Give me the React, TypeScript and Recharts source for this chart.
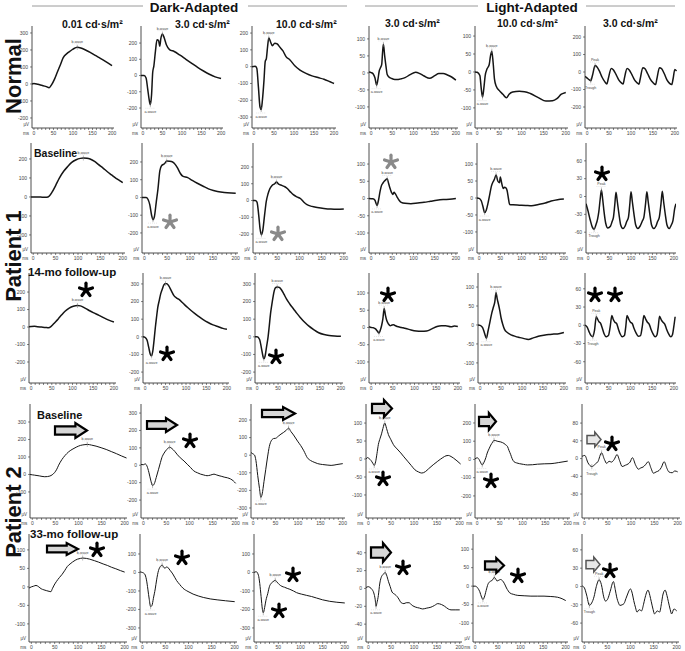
import React from 'react';
import { LineChart, Line, XAxis, YAxis, ReferenceDot } from 'recharts';

type P = [number, number];

// ---------- Row 1: Normal ----------
const nDA001: P[] = [[-5,0],[0,3],[10,-2],[20,-8],[30,-14],[39,-22],[45,-5],[53,30],[60,70],[68,115],[75,155],[85,180],[92,192],[100,205],[111,216],[120,212],[132,200],[144,186],[157,168],[170,151],[185,130],[200,108]];
const nDA30: P[] = [[-5,0],[3,0],[8,-15],[12,-80],[16,-150],[19,-180],[22,-120],[25,20],[28,60],[32,150],[36,220],[40,215],[43,180],[46,230],[50,255],[54,235],[60,190],[68,160],[80,148],[95,125],[110,100],[125,75],[140,50],[155,28],[170,8],[185,-8],[200,-18]];
const nDA100: P[] = [[-5,0],[3,2],[7,-10],[11,-120],[15,-240],[18,-255],[21,-200],[25,-80],[28,30],[31,50],[34,120],[37,170],[41,150],[46,125],[52,140],[58,135],[65,115],[72,95],[80,60],[90,40],[102,5],[115,-20],[130,-40],[145,-55],[160,-65],[175,-75],[190,-90],[200,-100]];
const nLA30: P[] = [[-5,3],[0,1],[5,-3],[9,-14],[13,-36],[16,-20],[19,5],[22,15],[25,25],[27,60],[29,84],[32,50],[35,20],[38,-5],[42,-12],[48,-16],[56,-19],[64,-19],[72,-17],[80,-14],[92,-5],[105,2],[115,-2],[125,-9],[138,-16],[150,-8],[160,-2],[170,-2],[180,-6],[190,-12],[200,-21]];
const nLA100: P[] = [[-5,0],[0,-1],[6,-10],[9,-45],[12,-70],[15,-45],[18,-10],[22,8],[27,20],[30,45],[33,58],[36,25],[39,-20],[43,-40],[50,-52],[58,-62],[66,-72],[72,-62],[80,-56],[95,-54],[107,-55],[120,-60],[139,-72],[155,-81],[170,-80],[180,-74],[190,-62],[200,-57]];
const nFlicker: P[] = [[-5,-25],[0,-35],[5,-45],[8,-50],[12,-20],[18,37],[22,30],[28,5],[34,-30],[40,-55],[45,-68],[48,-40],[55,20],[60,12],[66,-15],[72,-45],[78,-62],[82,-68],[85,-35],[91,20],[96,12],[102,-15],[108,-45],[114,-62],[118,-70],[121,-40],[127,25],[132,18],[138,-10],[144,-40],[150,-60],[156,-72],[159,-40],[165,25],[170,18],[176,-10],[182,-45],[188,-65],[193,-72],[196,-40],[200,15],[204,5]];

// ---------- Row 2: Patient 1 baseline ----------
const p1bDA001: P[] = [[-5,0],[10,0],[20,-1],[30,-2],[36,5],[42,25],[50,60],[58,98],[68,135],[77,160],[86,182],[96,196],[105,203],[112,205],[120,204],[127,200],[137,187],[146,170],[156,152],[165,134],[175,116],[185,98],[193,86],[200,75]];
const p1bDA30: P[] = [[-5,0],[4,0],[8,-10],[12,-40],[16,-100],[19,-125],[22,-110],[26,-30],[30,50],[34,150],[38,180],[44,190],[49,205],[55,204],[62,200],[68,185],[73,165],[79,135],[84,120],[95,112],[105,96],[116,80],[130,62],[145,44],[160,34],[175,28],[190,25],[200,24]];
const p1bDA100: P[] = [[-5,0],[0,0],[4,-10],[8,-90],[11,-170],[14,-205],[17,-180],[21,-90],[25,-5],[29,40],[33,70],[38,90],[44,100],[48,110],[53,98],[60,90],[67,82],[73,70],[80,50],[86,35],[94,22],[102,12],[110,-10],[117,-25],[128,-35],[140,-41],[155,-47],[171,-51],[185,-52],[200,-50]];
const p1bLA30: P[] = [[-5,0],[4,-1],[9,-5],[12,-15],[14,-20],[17,-8],[21,20],[24,36],[28,45],[31,50],[35,55],[38,57],[41,45],[44,32],[48,18],[51,12],[54,18],[57,14],[61,5],[66,-5],[71,-11],[80,-14],[94,-15],[110,-13],[125,-11],[140,-8],[155,-5],[170,-3],[185,-2],[200,0]];
const p1bLA100: P[] = [[-5,0],[0,-1],[5,-8],[9,-25],[13,-43],[17,-35],[21,-15],[25,10],[29,35],[33,48],[36,55],[40,68],[44,50],[48,45],[50,62],[53,45],[57,28],[60,32],[63,30],[66,22],[69,0],[72,-19],[80,-20],[95,-21],[110,-22],[124,-23],[140,-19],[156,-15],[170,-9],[185,-5],[200,-3]];
const p1bFlicker: P[] = [[-5,-12],[0,-25],[5,-40],[10,-52],[14,-55],[18,-48],[22,-38],[25,-25],[28,-5],[31,11],[34,-5],[37,-25],[41,-45],[46,-53],[52,-50],[56,-42],[59,-35],[62,-15],[65,7],[68,-8],[72,-30],[76,-48],[81,-54],[86,-50],[90,-42],[94,-35],[97,-15],[100,8],[103,-8],[107,-30],[111,-48],[116,-54],[121,-50],[126,-42],[130,-35],[134,-12],[137,8],[140,-8],[144,-30],[148,-48],[153,-54],[158,-50],[162,-42],[166,-35],[170,-12],[173,9],[176,-8],[180,-30],[184,-48],[189,-54],[194,-48],[198,-40],[202,-20],[205,-12]];

// ---------- Row 3: Patient 1, 14-mo follow-up ----------
const p1fDA001: P[] = [[-5,2],[0,3],[8,4],[15,2],[25,0],[35,-2],[42,-4],[49,5],[57,25],[66,48],[74,70],[82,90],[92,108],[102,119],[112,123],[119,121],[129,110],[139,96],[150,82],[164,67],[176,52],[189,38],[200,29]];
const p1fDA30: P[] = [[-5,0],[0,-3],[5,-20],[9,-60],[13,-100],[16,-108],[19,-80],[22,-20],[25,50],[28,110],[31,165],[35,210],[38,242],[42,270],[46,294],[50,302],[54,300],[58,289],[64,262],[71,232],[77,220],[83,212],[93,190],[104,166],[116,142],[129,119],[141,99],[154,81],[166,68],[179,57],[190,48],[200,43]];
const p1fDA100: P[] = [[-5,0],[0,0],[6,-15],[10,-60],[14,-110],[16,-125],[19,-110],[23,-50],[26,-5],[29,60],[32,130],[35,180],[38,225],[41,262],[44,279],[48,283],[53,280],[58,267],[64,242],[70,215],[78,186],[87,158],[95,133],[103,110],[113,84],[123,62],[135,41],[147,23],[160,13],[172,8],[185,5],[200,3]];
const p1fLA30: P[] = [[-5,2],[0,0],[5,-1],[10,-4],[14,-10],[18,-16],[21,-8],[24,5],[27,25],[30,55],[33,35],[36,20],[40,10],[44,5],[48,7],[52,8],[56,5],[60,3],[70,0],[80,-3],[92,-7],[104,-10],[116,-11],[128,-10],[140,-4],[152,3],[162,5],[172,5],[184,2],[192,4],[200,3]];
const p1fLA100: P[] = [[-5,0],[0,-1],[6,-7],[11,-23],[15,-35],[19,-16],[24,11],[28,32],[32,48],[35,60],[38,85],[41,68],[44,54],[47,38],[50,19],[54,2],[58,-11],[65,-20],[74,-26],[84,-30],[94,-33],[105,-36],[115,-38],[127,-34],[139,-30],[152,-27],[164,-25],[176,-24],[188,-23],[200,-20]];
const p1fFlicker: P[] = [[-5,0],[0,-3],[4,-10],[9,-17],[13,-19],[17,-8],[21,14],[24,10],[27,6],[31,3],[35,-5],[39,-14],[44,-19],[49,-17],[53,-3],[57,16],[60,10],[64,5],[68,3],[72,-6],[76,-14],[81,-19],[86,-17],[89,-3],[92,16],[96,10],[100,5],[104,3],[108,-5],[113,-13],[118,-18],[123,-17],[127,-3],[131,16],[135,10],[139,5],[143,2],[147,-6],[152,-14],[157,-19],[161,-16],[164,-3],[167,15],[171,9],[175,5],[179,2],[183,-6],[188,-14],[193,-19],[197,-15],[200,-2],[203,14]];

// ---------- Row 4: Patient 2 baseline ----------
const p2bDA001: P[] = [[-5,0],[0,-2],[5,-4],[15,-8],[27,-13],[33,-12],[38,-9],[43,-2],[48,10],[53,30],[57,53],[64,85],[71,109],[78,128],[86,143],[95,156],[104,166],[112,170],[119,172],[128,168],[138,162],[149,153],[160,143],[171,131],[182,119],[193,106],[204,94]];
const p2bDA30: P[] = [[-5,5],[0,3],[4,8],[8,-5],[12,-40],[16,-85],[20,-117],[24,-105],[28,-70],[33,-23],[37,15],[40,43],[45,70],[51,91],[57,104],[62,96],[68,80],[74,60],[80,43],[88,25],[95,6],[102,-12],[109,-32],[117,-43],[124,-51],[131,-56],[138,-60],[145,-57],[153,-51],[158,-55],[164,-60],[170,-64],[175,-68],[182,-72],[189,-79],[195,-90],[200,-104]];
const p2bDA100: P[] = [[-5,15],[-1,8],[3,0],[6,-30],[10,-115],[14,-190],[17,-240],[20,-220],[24,-150],[28,-80],[32,-10],[36,50],[41,85],[46,95],[50,96],[56,108],[62,120],[68,130],[74,142],[79,154],[84,135],[90,115],[99,80],[106,55],[113,25],[121,-15],[128,-30],[136,-40],[144,-48],[155,-53],[165,-56],[174,-58],[187,-53],[200,-48]];
const p2bLA30: P[] = [[-5,0],[-2,4],[2,1],[6,-4],[10,-12],[13,-18],[16,-8],[19,15],[22,40],[26,58],[29,70],[32,85],[36,100],[40,85],[44,68],[49,55],[55,40],[63,28],[71,17],[78,6],[86,-6],[94,-18],[102,-30],[110,-36],[117,-39],[125,-35],[132,-27],[142,-16],[152,-6],[163,4],[170,9],[175,10],[181,7],[186,3],[194,-5],[202,-14]];
const p2bLA100: P[] = [[-5,3],[0,9],[4,0],[7,-15],[11,-30],[15,-15],[19,10],[22,35],[26,58],[30,79],[34,95],[37,105],[41,103],[44,100],[48,98],[52,96],[56,92],[59,88],[63,80],[67,70],[70,50],[74,26],[77,5],[81,-12],[87,-19],[93,-23],[102,-27],[111,-30],[122,-29],[133,-26],[148,-24],[163,-23],[180,-17],[200,-9]];
const p2bFlicker: P[] = [[-5,5],[1,7],[8,-10],[16,-18],[24,-12],[29,-7],[37,13],[43,-2],[48,-11],[53,-6],[58,-8],[64,-2],[70,9],[76,-6],[81,-18],[88,-15],[94,-12],[98,-8],[103,2],[110,-15],[116,-24],[121,-21],[126,-19],[131,-14],[137,-7],[143,-22],[148,-33],[154,-30],[160,-27],[165,-20],[171,-7],[177,-22],[181,-30],[188,-32],[194,-28],[200,-30]];

// ---------- Row 5: Patient 2, 33-mo follow-up ----------
const p2fDA001: P[] = [[-5,-3],[0,0],[5,2],[10,4],[16,0],[21,-5],[27,-8],[32,-10],[38,-12],[42,-13],[45,-5],[49,5],[54,15],[60,25],[66,34],[72,45],[77,55],[83,62],[88,67],[94,72],[99,75],[105,77],[110,78],[118,77],[125,75],[135,71],[144,67],[154,62],[163,58],[172,53],[181,49],[191,44],[200,40]];
const p2fDA30: P[] = [[-5,3],[0,0],[5,-8],[9,-40],[12,-90],[15,-145],[18,-185],[21,-178],[24,-140],[28,-89],[31,-40],[35,10],[39,32],[43,40],[46,30],[49,22],[53,31],[56,25],[60,12],[66,-8],[74,-43],[81,-65],[88,-85],[99,-103],[110,-117],[121,-127],[132,-135],[147,-143],[162,-148],[180,-153],[200,-158]];
const p2fDA100: P[] = [[-5,0],[0,4],[5,-15],[8,-60],[11,-130],[14,-200],[16,-218],[19,-190],[22,-150],[26,-115],[30,-75],[34,-58],[38,-50],[43,-42],[47,-52],[52,-65],[58,-75],[64,-80],[70,-86],[76,-91],[84,-100],[91,-109],[102,-117],[114,-124],[125,-130],[136,-138],[150,-148],[166,-156],[182,-161],[200,-165]];
const p2fLA30: P[] = [[-5,1],[0,2],[4,1],[8,-1],[12,-5],[15,-12],[17,-20],[19,-16],[22,-8],[25,5],[28,12],[33,16],[37,18],[40,15],[44,8],[48,2],[52,-4],[59,-7],[63,-9],[67,-12],[72,-16],[78,-17],[83,-16],[89,-16],[96,-19],[104,-21],[112,-22],[119,-23],[128,-22],[137,-21],[145,-19],[152,-17],[160,-18],[167,-20],[175,-23],[181,-24],[190,-24],[200,-24]];
const p2fLA100: P[] = [[-5,0],[0,0],[6,-6],[10,-15],[14,-30],[17,-36],[20,-30],[24,-12],[28,5],[32,12],[35,14],[39,18],[42,24],[45,20],[48,14],[52,16],[56,18],[59,16],[62,12],[66,3],[69,-5],[73,-13],[76,-18],[84,-22],[94,-25],[108,-26],[123,-27],[138,-27],[152,-27],[167,-28],[182,-30],[192,-34],[200,-39]];
const p2fFlicker: P[] = [[-5,1],[0,-2],[5,-14],[11,-31],[16,-27],[21,-17],[26,0],[32,11],[37,3],[42,-17],[46,-24],[51,-20],[56,-8],[63,8],[67,-5],[70,-17],[74,-27],[77,-31],[82,-30],[86,-28],[90,-20],[93,-14],[100,-4],[104,-12],[107,-23],[111,-35],[114,-42],[119,-38],[124,-40],[128,-30],[131,-20],[138,-6],[142,-15],[145,-25],[149,-38],[152,-45],[158,-40],[163,-42],[167,-28],[170,-14],[175,-6],[179,-15],[182,-25],[186,-38],[189,-45],[194,-37],[200,-40]];

// ---------- Axis tick labels ----------
const X_TICKS = [0,10,20,30,40,50,60,70,80,90,100,110,120,130,140,150,160,170,180,190,200];
const X_DOMAIN: [number, number] = [-5, 205];
const T300 = [300,200,100,0,-100,-200];
const T200 = [200,100,0,-100,-200];
const T200b = [200,100,0,-100,-200,-300];
const T100 = [100,50,0,-50,-100];
const T60 = [60,30,0,-30,-60];
const T300b = [300,200,100,0,-100];
const T80 = [80,40,0,-40,-80];
const T100b = [100,0,-100,-200,-300];
const T40 = [40,20,0,-20,-40];

const COL_HEADERS = ['0.01 cd·s/m²', '3.0 cd·s/m²', '10.0 cd·s/m²', '3.0 cd·s/m²', '10.0 cd·s/m²', '3.0 cd·s/m²'];
const ROW_LABELS = ['Normal', 'Patient 1', 'Patient 2'];
const SUB_LABELS = ['Baseline', '14-mo follow-up', 'Baseline', '33-mo follow-up'];

const SERIES: P[][][] = [
  [nDA001, nDA30, nDA100, nLA30, nLA100, nFlicker],
  [p1bDA001, p1bDA30, p1bDA100, p1bLA30, p1bLA100, p1bFlicker],
  [p1fDA001, p1fDA30, p1fDA100, p1fLA30, p1fLA100, p1fFlicker],
  [p2bDA001, p2bDA30, p2bDA100, p2bLA30, p2bLA100, p2bFlicker],
  [p2fDA001, p2fDA30, p2fDA100, p2fLA30, p2fLA100, p2fFlicker],
];
const Y_DOMAINS: [number, number][][] = [
  [[-259,341],[-323,305],[-365,242],[-162,138],[-156,128],[-320,263]],
  [[-295,284],[-313,307],[-313,343],[-158,161],[-162,162],[-95,90]],
  [[-320,309],[-262,362],[-262,362],[-161,158],[-153,137],[-95,86]],
  [[-249,403],[-303,352],[-357,291],[-164,153],[-321,304],[-134,123]],
  [[-149,143],[-376,208],[-376,208],[-60,61],[-151,141],[-91,86]],
];
const Y_TICKS: number[][][] = [
  [T300, T200, T200b, T100, T100, T200],
  [T200, T200, T200, T100, T100, T60],
  [T200, T300, T300, T100, T100, T60],
  [T300b, T300, T200b, T100, T200, T80],
  [T100, T100b, T100b, T40, T100, T60],
];

// ---------- Layout ----------
const AXIS_X = [
  [32, 141, 252, 369, 475, 585],
  [31, 142, 253, 369, 477, 586],
  [29, 143, 255, 369, 478, 585],
  [30, 141, 251, 366, 475, 582],
  [29, 140, 254, 366, 473, 582],
];
const RIGHT_X = [
  [114, 223, 336, 458, 568, 677],
  [125, 238, 346, 458, 566, 676],
  [116, 229, 343, 460, 566, 676],
  [127, 238, 345, 462, 570, 680],
  [127, 237, 347, 462, 568, 679],
];
const ROW_TOP = [26, 143, 273, 404, 534];
const ROW_BOTTOM = [128, 253, 383, 518, 642];
const FONT = '"Liberation Sans", Arial, Helvetica, sans-serif';

function findExt(d: P[], t0: number, t1: number, max: boolean): P | null {
  let best: P | null = null;
  for (const p of d) {
    if (p[0] < t0 || p[0] > t1) continue;
    if (!best || (max ? p[1] > best[1] : p[1] < best[1])) best = p;
  }
  return best;
}

function markerShape(label: string, below: boolean) {
  return (props: any) => {
    const { cx, cy } = props;
    if (cx == null || cy == null) return <g />;
    return (
      <g>
        <line x1={cx} x2={cx} y1={cy - 2.5} y2={cy + 2.5} stroke="#777" strokeWidth={0.5} />
        <line x1={cx - 5} x2={cx + 5} y1={below ? cy + 3.5 : cy - 3.5} y2={below ? cy + 3.5 : cy - 3.5} stroke="#aaa" strokeWidth={0.3} strokeDasharray="1 1" />
        <text x={cx} y={below ? cy + 8 : cy - 4.5} fontSize={3.6} textAnchor="middle" fill="#444">{label}</text>
      </g>
    );
  };
}

const renderXTick = (props: any) => {
  const { x, y, payload } = props;
  const v = payload?.value;
  if (v == null || v % 50 !== 0) return <g />;
  return (
    <g>
      <text x={x} y={y + 2.5} fontSize={5} textAnchor="middle" fill="#444">{v}</text>
      {v === 0 ? <text x={x - 8} y={y + 2.5} fontSize={4.6} textAnchor="middle" fill="#444">ms</text> : null}
    </g>
  );
};

function Panel({ r, c }: { r: number; c: number }) {
  const series = SERIES[r][c];
  const data = series.map(([t, v]) => ({ t, v }));
  const yw = 22, xh = 9, mr = 7;
  const ax = AXIS_X[r][c], rx = RIGHT_X[r][c];
  const width = rx - ax + yw + mr;
  const height = ROW_BOTTOM[r] - ROW_TOP[r] + xh;
  const sw = r >= 3 ? 1.0 : 1.5;
  const markers: { p: P; label: string; below: boolean }[] = [];
  if (c === 0) {
    const b = findExt(series, 40, 205, true);
    if (b) markers.push({ p: b, label: 'b-wave', below: false });
  } else if (c === 5) {
    const pk = findExt(series, 10, 50, true);
    if (pk) {
      markers.push({ p: pk, label: 'Peak', below: false });
      const tr = findExt(series, -5, pk[0], false);
      if (tr) markers.push({ p: tr, label: 'Trough', below: true });
    }
  } else {
    const a = findExt(series, 0, 40, false);
    if (a) {
      markers.push({ p: a, label: 'a-wave', below: true });
      const b = findExt(series, a[0], 120, true);
      if (b) markers.push({ p: b, label: 'b-wave', below: false });
    }
  }
  return (
    <div style={{ position: 'absolute', left: ax - yw, top: ROW_TOP[r], width, height }}>
      <LineChart width={width} height={height} data={data} margin={{ top: 0, right: mr, bottom: 0, left: 0 }}>
        <XAxis dataKey="t" type="number" domain={X_DOMAIN} ticks={X_TICKS} interval={0} allowDataOverflow
          height={xh} tickSize={2} tick={renderXTick} axisLine={{ stroke: '#222', strokeWidth: 0.8 }}
          tickLine={{ stroke: '#333', strokeWidth: 0.6 }} />
        <YAxis type="number" domain={Y_DOMAINS[r][c]} ticks={Y_TICKS[r][c]} interval={0} allowDataOverflow
          width={yw} tickSize={2} tick={{ fontSize: 5, fill: '#444' }} axisLine={{ stroke: '#222', strokeWidth: 0.8 }}
          tickLine={{ stroke: '#333', strokeWidth: 0.6 }} />
        <Line type="monotone" dataKey="v" stroke="#151515" strokeWidth={sw} dot={false} isAnimationActive={false} />
        {markers.map((m, i) => (
          <ReferenceDot key={i} x={m.p[0]} y={m.p[1]} r={1} ifOverflow="visible" shape={markerShape(m.label, m.below)} />
        ))}
      </LineChart>
    </div>
  );
}

function Star({ x, y, color }: { x: number; y: number; color: string }) {
  const angles = [-90, -18, 54, 126, 198];
  const len = 6.8;
  return (
    <g>
      {angles.map((a) => {
        const rad = (a * Math.PI) / 180;
        return (
          <line key={a} x1={x} y1={y} x2={x + len * Math.cos(rad)} y2={y + len * Math.sin(rad)}
            stroke={color} strokeWidth={3.2} strokeLinecap="round" />
        );
      })}
    </g>
  );
}

function Arrow({ x0, y0, x1, y1, light }: { x0: number; y0: number; x1: number; y1: number; light?: boolean }) {
  const w = x1 - x0, h = y1 - y0;
  const yc = (y0 + y1) / 2;
  const bh = h * 0.55;
  const xh = x1 - (0.3 * w + 2);
  const d = `M${x0},${yc - bh / 2} L${xh},${yc - bh / 2} L${xh},${y0} L${x1},${yc} L${xh},${y1} L${xh},${yc + bh / 2} L${x0},${yc + bh / 2} Z`;
  return <path d={d} fill={light ? '#e8e8e8' : '#d6d6d6'} stroke={light ? '#555' : '#000'} strokeWidth={light ? 1.5 : 2.2} strokeLinejoin="miter" />;
}

const STARS: { x: number; y: number; gray?: boolean }[] = [
  { x: 170, y: 222, gray: true }, { x: 278, y: 234, gray: true }, { x: 391, y: 162, gray: true }, { x: 602, y: 174 },
  { x: 86, y: 290 }, { x: 167, y: 354 }, { x: 276, y: 357 }, { x: 388, y: 295 }, { x: 595, y: 295 }, { x: 615, y: 295 },
  { x: 190, y: 441 }, { x: 383, y: 479 }, { x: 491, y: 481 }, { x: 612, y: 444 },
  { x: 97, y: 550 }, { x: 182, y: 558 }, { x: 293, y: 575 }, { x: 279, y: 611 }, { x: 403, y: 568 }, { x: 518, y: 576 }, { x: 610, y: 571 },
];
const ARROWS: { x0: number; y0: number; x1: number; y1: number; light?: boolean }[] = [
  { x0: 55, y0: 423, x1: 87, y1: 438 }, { x0: 147, y0: 418, x1: 177, y1: 432 }, { x0: 262, y0: 407, x1: 295, y1: 420 },
  { x0: 372, y0: 400, x1: 392, y1: 417 }, { x0: 479, y0: 413, x1: 496, y1: 430 }, { x0: 587, y0: 432, x1: 601, y1: 447, light: true },
  { x0: 47, y0: 543, x1: 78, y1: 555 }, { x0: 371, y0: 543, x1: 391, y1: 562 }, { x0: 485, y0: 558, x1: 504, y1: 573 },
  { x0: 586, y0: 557, x1: 600, y1: 572, light: true },
];

export default function App() {
  const headerX = [62, 175, 276, 385, 497, 603];
  const headerY = [28, 28, 28, 27, 27, 27];
  const subPos = [
    { x: 34, y: 157, fs: 10.5 }, { x: 28, y: 276, fs: 11.5 }, { x: 37, y: 419, fs: 11 }, { x: 30, y: 538, fs: 11.5 },
  ];
  const rowLabelY = [76, 256, 512];
  const labelX = 13;
  const panels: React.ReactNode[] = [];
  for (let r = 0; r < 5; r++) for (let c = 0; c < 6; c++) panels.push(<Panel key={`${r}-${c}`} r={r} c={c} />);
  return (
    <div style={{ position: 'relative', width: 685, height: 651, background: '#fff', fontFamily: FONT, overflow: 'hidden' }}>
      <style>{'body{margin:0;}'}</style>
      {panels}
      <svg width={685} height={651} style={{ position: 'absolute', left: 0, top: 0, pointerEvents: 'none' }}>
        <line x1={32} x2={143} y1={6} y2={6} stroke="#9a9a9a" strokeWidth={1} />
        <line x1={248} x2={347} y1={6} y2={6} stroke="#9a9a9a" strokeWidth={1} />
        <text x={194} y={12} fontSize={13.5} fontWeight="bold" textAnchor="middle" fill="#111">Dark-Adapted</text>
        <line x1={365} x2={478} y1={6} y2={6} stroke="#9a9a9a" strokeWidth={1} />
        <line x1={586} x2={675} y1={6} y2={6} stroke="#9a9a9a" strokeWidth={1} />
        <text x={532} y={12} fontSize={13.5} fontWeight="bold" textAnchor="middle" fill="#111">Light-Adapted</text>
        {COL_HEADERS.map((h, i) => (
          <text key={i} x={headerX[i]} y={headerY[i]} fontSize={10.5} fontWeight="bold" fill="#111">{h}</text>
        ))}
        {ROW_LABELS.map((l, i) => (
          <text key={l} x={labelX} y={rowLabelY[i]} fontSize={22} fontWeight="bold" fill="#111" textAnchor="middle"
            dominantBaseline="central" transform={`rotate(-90 ${labelX} ${rowLabelY[i]})`}>{l}</text>
        ))}
        {SUB_LABELS.map((l, i) => (
          <text key={i} x={subPos[i].x} y={subPos[i].y} fontSize={subPos[i].fs} fontWeight="bold" fill="#111">{l}</text>
        ))}
        {ROW_TOP.map((_, r) => AXIS_X[r].map((ax, c) => (
          <text key={`uv-${r}-${c}`} x={ax - 3} y={ROW_BOTTOM[r] - 2} fontSize={4.5} textAnchor="end" fill="#444">µV</text>
        )))}
        {ARROWS.map((a, i) => <Arrow key={i} {...a} />)}
        {STARS.map((s, i) => <Star key={i} x={s.x} y={s.y} color={s.gray ? '#8a8a8a' : '#000'} />)}
      </svg>
    </div>
  );
}
